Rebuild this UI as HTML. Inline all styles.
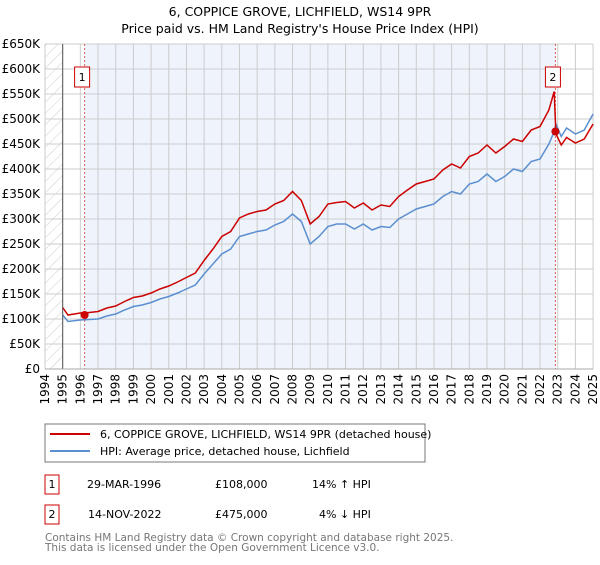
<!DOCTYPE html>
<html><head><meta charset="utf-8"><style>
body{margin:0;background:#fff;font-family:"Liberation Sans","DejaVu Sans",sans-serif;}
svg text{font-family:"DejaVu Sans","Liberation Sans",sans-serif;}
</style></head><body>
<svg id="c" width="600" height="560" xmlns="http://www.w3.org/2000/svg">
<defs><pattern id="hatch" width="8" height="8" patternUnits="userSpaceOnUse" patternTransform="rotate(45)"><line x1="0" y1="0" x2="0" y2="8" stroke="#ccc" stroke-width="1"/></pattern></defs>
<text x="300" y="16" text-anchor="middle" font-size="12.5" fill="#000">6, COPPICE GROVE, LICHFIELD, WS14 9PR</text>
<text x="300" y="33" text-anchor="middle" font-size="12.5" fill="#000">Price paid vs. HM Land Registry's House Price Index (HPI)</text>
<g id="grid"></g><g id="series"></g><g id="axes"></g>
<rect x="45" y="424" width="380" height="38" fill="#fff" stroke="#777"/>
<line x1="50" y1="434" x2="90" y2="434" stroke="#cc0000" stroke-width="2"/>
<text x="100" y="438" font-size="11">6, COPPICE GROVE, LICHFIELD, WS14 9PR (detached house)</text>
<line x1="50" y1="451" x2="90" y2="451" stroke="#5b8fd0" stroke-width="2"/>
<text x="100" y="455" font-size="11">HPI: Average price, detached house, Lichfield</text>
<g font-size="11" fill="#000">
<rect x="45" y="475" width="14" height="19" fill="none" stroke="#cc0000"/><text x="52" y="488" text-anchor="middle">1</text>
<text x="87" y="488">29-MAR-1996</text>
<text x="215" y="488">£108,000</text>
<text x="312" y="488">14% ↑ HPI</text>
<rect x="45" y="505" width="14" height="19" fill="none" stroke="#cc0000"/><text x="52" y="518" text-anchor="middle">2</text>
<text x="88" y="518">14-NOV-2022</text>
<text x="215" y="518">£475,000</text>
<text x="319" y="518">4% ↓ HPI</text>
</g>
<text x="45" y="541" font-size="10.5" fill="#777">Contains HM Land Registry data © Crown copyright and database right 2025.</text>
<text x="45" y="551" font-size="10.5" fill="#777">This data is licensed under the Open Government Licence v3.0.</text>
</svg>
<script>
const years=[1995,1995.3,1996,1996.5,1997,1997.5,1998,1998.5,1999,1999.5,2000,2000.5,2001,2001.5,2002,2002.5,2003,2003.5,2004,2004.5,2005,2005.5,2006,2006.5,2007,2007.5,2008,2008.5,2009,2009.5,2010,2010.5,2011,2011.5,2012,2012.5,2013,2013.5,2014,2014.5,2015,2015.5,2016,2016.5,2017,2017.5,2018,2018.5,2019,2019.5,2020,2020.5,2021,2021.5,2022,2022.5,2022.8,2022.9,2023.2,2023.5,2024,2024.5,2025];
const hpiValues=[108,95,98,99,100,106,110,118,125,128,133,140,145,152,160,168,190,210,230,240,265,270,275,278,288,295,310,295,250,265,285,290,290,280,290,278,285,283,300,310,320,325,330,345,355,350,370,375,390,375,385,400,395,415,420,450,475,490,465,482,470,478,510];
const priceValues=[123,108,112,113,115,122,126,135,143,146,152,160,166,174,183,192,217,240,265,275,302,310,315,318,330,337,355,337,290,305,330,333,335,322,332,318,328,325,345,358,370,375,380,398,410,402,425,432,448,432,445,460,455,478,485,518,555,470,448,463,452,460,490];
const salesX=[1996.24,2022.87];
const salesY=[108,475];
const yTicks=[0,50,100,150,200,250,300,350,400,450,500,550,600,650];
const yTickLabels=["£0","£50K","£100K","£150K","£200K","£250K","£300K","£350K","£400K","£450K","£500K","£550K","£600K","£650K"];
const xTicks=[1994,1995,1996,1997,1998,1999,2000,2001,2002,2003,2004,2005,2006,2007,2008,2009,2010,2011,2012,2013,2014,2015,2016,2017,2018,2019,2020,2021,2022,2023,2024,2025];
const NS="http://www.w3.org/2000/svg";
const X=y=>45+(y-1994)*17.68, Y=v=>369-v*0.5;
function mk(t,a,p){const e=document.createElementNS(NS,t);for(const k in a)e.setAttribute(k,a[k]);p.appendChild(e);return e;}
const g=document.getElementById('grid'),s=document.getElementById('series'),ax=document.getElementById('axes');
let r=mk('rect',{x:X(1994),y:Y(650),width:X(1995)-X(1994),height:Y(0)-Y(650),fill:'url(#hatch)'},g);


r=mk('rect',{x:X(salesX[0]),y:Y(650),width:X(salesX[1])-X(salesX[0]),height:Y(0)-Y(650),fill:'#eef3fc'},g);


yTicks.forEach((v,i)=>{const l=mk('line',{x1:X(1994),x2:X(2025),y1:Y(v),y2:Y(v),stroke:'#ccc'},g);


const t=mk('text',{x:40,y:Y(v)+4,'text-anchor':'end','font-size':12},ax);t.textContent=yTickLabels[i];

});
xTicks.forEach(yr=>{const l=mk('line',{x1:X(yr),x2:X(yr),y1:Y(650),y2:Y(0),stroke:'#ccc'},g);


const t=mk('text',{x:0,y:0,'text-anchor':'end','font-size':12,transform:`translate(${X(yr)+4},374) rotate(-90)`},ax);t.textContent=yr;

});
let a=mk('line',{x1:X(1995),x2:X(1995),y1:Y(650),y2:Y(0),stroke:'#555'},ax);


a=mk('line',{x1:X(1994),x2:X(2025),y1:Y(0),y2:Y(0),stroke:'#aaa'},ax);


salesX.forEach((sx,i)=>{const l=mk('line',{x1:X(sx),x2:X(sx),y1:Y(650),y2:Y(0),stroke:'#e06060','stroke-dasharray':'2,2'},g);


const bx=X(sx)-9;const b=mk('rect',{x:bx-1,y:67,width:15,height:20,fill:'#fff',stroke:'#cc0000'},ax);


const t=mk('text',{x:bx+6.5,y:81,'text-anchor':'middle','font-size':11},ax);t.textContent=i+1;

});
const pts=(vals)=>years.map((yr,i)=>X(yr)+','+Y(vals[i])).join(' ');
let p=mk('polyline',{points:pts(hpiValues),fill:'none',stroke:'#5b8fd0','stroke-width':1.5},s);


p=mk('polyline',{points:pts(priceValues),fill:'none',stroke:'#cc0000','stroke-width':1.5},s);


salesX.forEach((sx,i)=>{const c=mk('circle',{cx:X(sx),cy:Y(salesY[i]),r:4,fill:'#cc0000'},s);

});
</script>
</body></html>
